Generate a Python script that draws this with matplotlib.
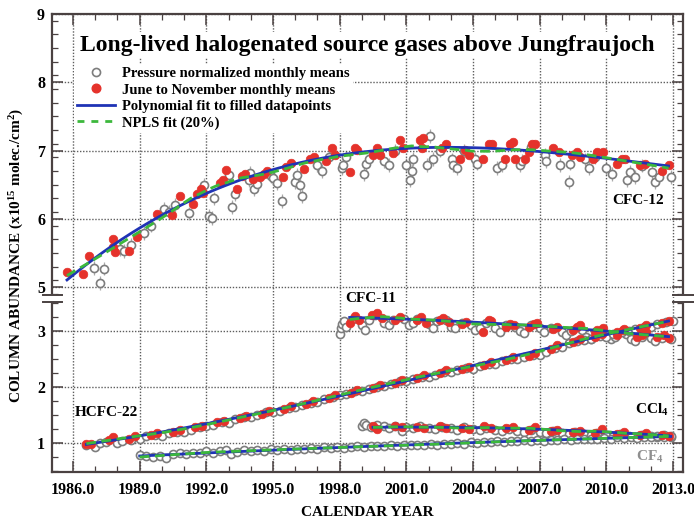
import numpy as np
import matplotlib
matplotlib.use("Agg")
import matplotlib.pyplot as plt
from matplotlib.lines import Line2D
from matplotlib.patches import Rectangle

plt.rcParams['font.family'] = ['Liberation Serif', 'DejaVu Serif']
plt.rcParams['font.weight'] = 'bold'
plt.rcParams['mathtext.fontset'] = 'custom'
plt.rcParams['mathtext.rm'] = 'Liberation Serif:bold'
plt.rcParams['mathtext.it'] = 'Liberation Serif:bold'
plt.rcParams['mathtext.bf'] = 'Liberation Serif:bold'
plt.rcParams['mathtext.default'] = 'rm'

# ---------------- data (decimal year, column abundance) ----------------
cfc12_open = [(1986.95, 5.28), (1987.2, 5.06), (1987.4, 5.27), (1988.1, 5.56), (1988.3, 5.53),
              (1988.6, 5.62), (1989.2, 5.79), (1989.5, 5.90), (1990.1, 6.14), (1990.3, 6.10),
              (1990.6, 6.20), (1991.2, 6.08), (1991.9, 6.50), (1992.1, 6.04), (1992.25, 6.01),
              (1992.35, 6.30), (1993.0, 6.64), (1993.15, 6.17), (1993.3, 6.36), (1993.9, 6.57),
              (1993.95, 6.67), (1994.15, 6.44), (1994.3, 6.51), (1994.9, 6.62), (1995.0, 6.60),
              (1995.2, 6.52), (1995.4, 6.26), (1996.0, 6.54), (1996.1, 6.64), (1996.2, 6.50),
              (1996.3, 6.33), (1997.0, 6.79), (1997.2, 6.70), (1997.5, 6.90), (1998.1, 6.74),
              (1998.15, 6.79), (1998.3, 6.90), (1999.1, 6.66), (1999.2, 6.81), (1999.3, 6.88),
              (2000.0, 6.85), (2000.2, 6.79), (2000.5, 7.00), (2001.0, 6.79), (2001.15, 6.57),
              (2001.25, 6.70), (2001.3, 6.88), (2001.95, 6.79), (2002.05, 7.21), (2002.2, 6.88),
              (2002.5, 7.00), (2003.05, 6.87), (2003.1, 6.79), (2003.3, 6.74), (2003.6, 7.00),
              (2004.1, 6.88), (2004.2, 6.81), (2005.1, 6.74), (2005.3, 6.79), (2006.1, 6.79),
              (2006.2, 6.85), (2006.6, 7.05), (2007.25, 6.94), (2007.3, 6.84), (2007.9, 6.79),
              (2008.3, 6.54), (2008.35, 6.81), (2009.05, 6.87), (2009.2, 6.74), (2009.5, 6.90),
              (2010.0, 6.74), (2010.25, 6.66), (2010.95, 6.57), (2011.05, 6.69), (2011.3, 6.61),
              (2011.6, 6.78), (2012.05, 6.69), (2012.2, 6.54), (2012.35, 6.61), (2012.9, 6.61)]

cfc12_red = [(1985.73, 5.22), (1986.45, 5.19), (1986.72, 5.46), (1987.78, 5.70), (1987.82, 5.58),
             (1987.88, 5.52), (1988.5, 5.53), (1988.9, 5.74), (1989.8, 6.07), (1990.45, 6.05),
             (1990.8, 6.33), (1991.4, 6.21), (1991.6, 6.36), (1991.75, 6.44), (1991.85, 6.38),
             (1992.6, 6.53), (1992.75, 6.57), (1992.9, 6.72), (1993.4, 6.44), (1993.6, 6.63),
             (1993.75, 6.65), (1994.1, 6.59), (1994.4, 6.61), (1994.6, 6.65), (1994.75, 6.70),
             (1995.45, 6.61), (1995.6, 6.76), (1995.8, 6.82), (1996.4, 6.73), (1996.65, 6.88),
             (1996.85, 6.91), (1997.4, 6.84), (1997.65, 7.04), (1997.8, 6.94), (1998.45, 6.69),
             (1998.7, 7.03), (1998.8, 7.01), (1999.5, 6.94), (1999.7, 7.04), (1999.8, 6.94),
             (2000.4, 6.96), (2000.7, 7.16), (2000.85, 7.03), (2001.6, 7.16), (2001.7, 7.03),
             (2001.75, 7.18), (2002.6, 7.03), (2002.8, 7.10), (2003.4, 6.87), (2003.65, 7.01),
             (2003.8, 6.94), (2004.45, 6.87), (2004.7, 7.09), (2004.85, 7.10), (2005.45, 6.88),
             (2005.65, 7.10), (2005.8, 7.13), (2005.9, 6.88), (2006.35, 6.88), (2006.5, 6.98),
             (2006.65, 7.10), (2006.8, 7.10), (2007.6, 7.03), (2007.85, 6.98), (2008.45, 6.94),
             (2008.7, 6.98), (2008.8, 6.91), (2009.4, 6.88), (2009.6, 6.98), (2009.85, 6.98),
             (2010.5, 6.81), (2010.7, 6.88), (2010.85, 6.87), (2011.5, 6.79), (2011.75, 6.81),
             (2012.5, 6.70), (2012.8, 6.79)]

cfc11_open = [(1998.0, 2.95), (1998.05, 3.05), (1998.1, 3.12), (1998.2, 3.18), (1998.3, 3.08),
              (1998.6, 3.22), (1999.0, 3.10), (1999.15, 3.02), (1999.3, 3.20), (1999.6, 3.28),
              (2000.0, 3.15), (2000.2, 3.10), (2000.4, 3.20), (2000.9, 3.22), (2001.1, 3.10),
              (2001.3, 3.15), (2001.5, 3.22), (2002.0, 3.12), (2002.2, 3.05), (2002.4, 3.18),
              (2002.8, 3.20), (2003.0, 3.08), (2003.2, 3.05), (2003.5, 3.15), (2003.9, 3.10),
              (2004.1, 3.02), (2004.3, 3.06), (2004.6, 3.15), (2005.0, 3.05), (2005.2, 2.98),
              (2005.5, 3.10), (2005.9, 3.08), (2006.1, 3.00), (2006.3, 2.96), (2006.6, 3.10),
              (2007.0, 3.05), (2007.2, 2.98), (2007.5, 3.06), (2008.0, 2.98), (2008.2, 2.92),
              (2008.4, 3.00), (2008.9, 3.02), (2009.1, 2.90), (2009.3, 2.86), (2009.6, 2.96),
              (2010.0, 2.92), (2010.2, 2.85), (2010.4, 2.90), (2010.9, 2.95), (2011.1, 2.85),
              (2011.3, 2.82), (2011.6, 2.90), (2012.0, 2.88), (2012.2, 2.82), (2012.5, 2.88),
              (2012.9, 2.86)]

cfc11_red = [(1998.45, 3.14), (1998.7, 3.27), (1998.85, 3.20), (1999.45, 3.29), (1999.7, 3.32),
             (1999.9, 3.23), (2000.5, 3.20), (2000.7, 3.25), (2001.5, 3.20), (2001.65, 3.25),
             (2001.9, 3.14), (2002.5, 3.20), (2002.65, 3.23), (2002.9, 3.16), (2003.5, 3.12),
             (2003.7, 3.16), (2004.45, 2.98), (2004.7, 3.20), (2004.8, 3.18), (2005.5, 3.08),
             (2005.65, 3.13), (2005.85, 3.10), (2006.5, 3.08), (2006.75, 3.12), (2006.9, 3.14),
             (2007.6, 3.04), (2007.8, 3.07), (2008.5, 3.02), (2008.7, 3.08), (2008.8, 3.11),
             (2009.5, 2.98), (2009.6, 3.02), (2009.85, 3.05), (2010.5, 2.93), (2010.75, 3.02),
             (2011.4, 2.89), (2011.6, 2.93), (2011.8, 2.98), (2012.3, 2.89), (2012.6, 2.93),
             (2012.8, 2.88)]

hcfc22_open = [(1986.6, 0.96), (1987.0, 0.92), (1987.2, 1.00), (1987.5, 1.02), (1988.0, 1.00),
               (1988.2, 1.04), (1988.6, 1.06), (1989.0, 1.08), (1989.3, 1.12), (1989.7, 1.15),
               (1990.0, 1.13), (1990.3, 1.17), (1990.7, 1.20), (1991.0, 1.20), (1991.3, 1.24),
               (1991.7, 1.28), (1992.0, 1.30), (1992.3, 1.33), (1992.7, 1.38), (1993.0, 1.36),
               (1993.3, 1.42), (1993.7, 1.46), (1994.0, 1.46), (1994.3, 1.50), (1994.7, 1.55),
               (1995.0, 1.55), (1995.3, 1.58), (1995.7, 1.63), (1996.0, 1.64), (1996.3, 1.68),
               (1996.7, 1.72), (1997.0, 1.74), (1997.3, 1.78), (1997.7, 1.82), (1998.0, 1.86),
               (1998.3, 1.88), (1998.7, 1.92), (1999.0, 1.93), (1999.3, 1.97), (1999.7, 2.00),
               (2000.0, 2.02), (2000.3, 2.05), (2000.7, 2.10), (2001.0, 2.10), (2001.3, 2.14),
               (2001.7, 2.18), (2002.0, 2.18), (2002.3, 2.22), (2002.7, 2.27), (2003.0, 2.26),
               (2003.3, 2.30), (2003.7, 2.34), (2004.0, 2.33), (2004.3, 2.37), (2004.7, 2.41),
               (2005.0, 2.41), (2005.3, 2.46), (2005.7, 2.50), (2006.0, 2.50), (2006.3, 2.54),
               (2006.7, 2.58), (2007.0, 2.58), (2007.3, 2.63), (2007.7, 2.70), (2008.0, 2.72),
               (2008.3, 2.78), (2008.7, 2.82), (2009.0, 2.84), (2009.3, 2.86), (2009.7, 2.91),
               (2010.0, 2.90), (2010.3, 2.95), (2010.7, 2.99), (2011.0, 3.00), (2011.3, 3.03),
               (2011.7, 3.08), (2012.0, 3.08), (2012.3, 3.12), (2012.7, 3.16), (2013.0, 3.17)]

hcfc22_red = [(1986.6, 0.98), (1986.8, 0.99), (1987.6, 1.05), (1987.8, 1.10), (1988.5, 1.08),
              (1988.8, 1.12), (1989.5, 1.15), (1989.8, 1.18), (1990.5, 1.20), (1990.8, 1.24),
              (1991.5, 1.28), (1991.8, 1.30), (1992.5, 1.37), (1992.8, 1.40), (1993.5, 1.45),
              (1993.8, 1.49), (1994.5, 1.52), (1994.8, 1.58), (1995.5, 1.60), (1995.8, 1.66),
              (1996.5, 1.70), (1996.8, 1.75), (1997.5, 1.80), (1997.8, 1.86), (1998.5, 1.90),
              (1998.8, 1.94), (1999.5, 1.98), (1999.8, 2.04), (2000.5, 2.08), (2000.8, 2.12),
              (2001.5, 2.16), (2001.8, 2.22), (2002.5, 2.25), (2002.8, 2.30), (2003.5, 2.32),
              (2003.8, 2.36), (2004.5, 2.40), (2004.8, 2.44), (2005.5, 2.48), (2005.8, 2.53),
              (2006.5, 2.56), (2006.8, 2.60), (2007.5, 2.68), (2007.8, 2.75), (2008.5, 2.80),
              (2008.8, 2.86), (2009.5, 2.90), (2009.8, 2.94), (2010.5, 2.98), (2010.8, 3.03),
              (2011.5, 3.06), (2011.8, 3.10), (2012.5, 3.14), (2012.8, 3.18)]

ccl4_open = [(1999.0, 1.30), (1999.1, 1.35), (1999.2, 1.33), (1999.4, 1.28), (1999.7, 1.32),
             (2000.0, 1.30), (2000.2, 1.27), (2000.5, 1.31), (2000.8, 1.22), (2001.0, 1.28),
             (2001.3, 1.26), (2001.6, 1.30), (2002.0, 1.27), (2002.3, 1.25), (2002.6, 1.29),
             (2003.0, 1.26), (2003.3, 1.24), (2003.6, 1.28), (2004.0, 1.25), (2004.3, 1.23),
             (2004.6, 1.27), (2005.0, 1.24), (2005.3, 1.21), (2005.6, 1.25), (2006.0, 1.22),
             (2006.3, 1.20), (2006.6, 1.24), (2007.0, 1.20), (2007.3, 1.18), (2007.6, 1.22),
             (2008.0, 1.18), (2008.3, 1.16), (2008.6, 1.20), (2009.0, 1.16), (2009.3, 1.14),
             (2009.6, 1.18), (2010.0, 1.15), (2010.3, 1.12), (2010.6, 1.16), (2011.0, 1.13),
             (2011.3, 1.11), (2011.6, 1.15), (2012.0, 1.12), (2012.3, 1.10), (2012.6, 1.14),
             (2012.9, 1.10)]

ccl4_red = [(1999.5, 1.30), (1999.7, 1.25), (2000.5, 1.31), (2000.8, 1.28), (2001.5, 1.29),
            (2001.8, 1.27), (2002.5, 1.30), (2002.8, 1.26), (2003.5, 1.27), (2003.8, 1.25),
            (2004.5, 1.30), (2004.8, 1.26), (2005.5, 1.26), (2005.8, 1.28), (2006.5, 1.24),
            (2006.8, 1.29), (2007.5, 1.21), (2007.8, 1.24), (2008.5, 1.19), (2008.8, 1.22),
            (2009.5, 1.18), (2009.8, 1.25), (2010.5, 1.16), (2010.8, 1.19), (2011.5, 1.15),
            (2011.8, 1.17), (2012.5, 1.14), (2012.8, 1.12)]

cf4_open = [(1989.0, 0.78), (1989.3, 0.76), (1989.6, 0.75), (1989.9, 0.76), (1990.2, 0.74),
            (1990.5, 0.80), (1990.8, 0.82), (1991.1, 0.80), (1991.4, 0.83), (1991.7, 0.82),
            (1992.0, 0.85), (1992.3, 0.83), (1992.6, 0.86), (1992.9, 0.88), (1993.1, 0.80),
            (1993.4, 0.84), (1993.7, 0.87), (1994.0, 0.85), (1994.3, 0.88), (1994.6, 0.86),
            (1994.9, 0.89), (1995.2, 0.87), (1995.5, 0.90), (1995.8, 0.88), (1996.1, 0.90),
            (1996.4, 0.89), (1996.7, 0.91), (1997.0, 0.90), (1997.3, 0.92), (1997.6, 0.91),
            (1997.9, 0.93), (1998.2, 0.91), (1998.5, 0.93), (1998.8, 0.94), (1999.1, 0.92),
            (1999.4, 0.94), (1999.7, 0.95), (2000.0, 0.94), (2000.3, 0.96), (2000.6, 0.95),
            (2000.9, 0.97), (2001.2, 0.96), (2001.5, 0.97), (2001.8, 0.96), (2002.1, 0.98),
            (2002.4, 0.97), (2002.7, 0.99), (2003.0, 0.98), (2003.3, 1.00), (2003.6, 0.99),
            (2003.9, 1.01), (2004.2, 1.00), (2004.5, 1.02), (2004.8, 1.01), (2005.1, 1.03),
            (2005.4, 1.02), (2005.7, 1.04), (2006.0, 1.03), (2006.3, 1.05), (2006.6, 1.04),
            (2006.9, 1.05), (2007.2, 1.04), (2007.5, 1.06), (2007.8, 1.05), (2008.1, 1.07),
            (2008.4, 1.06), (2008.7, 1.08), (2009.0, 1.07), (2009.3, 1.08), (2009.6, 1.07),
            (2009.9, 1.09), (2010.2, 1.08), (2010.5, 1.10), (2010.8, 1.09), (2011.1, 1.10),
            (2011.4, 1.09), (2011.7, 1.11), (2012.0, 1.10), (2012.3, 1.12), (2012.6, 1.11),
            (2012.9, 1.12)]

x_ticks = [1986.0, 1989.0, 1992.0, 1995.0, 1998.0, 2001.0, 2004.0, 2007.0, 2010.0, 2013.0]
y_ticks_top = [5, 6, 7, 8, 9]
y_ticks_low = [1, 2, 3]

# ---------------- styles ----------------
W, H = 694, 522
C_RED = '#e5322b'
C_BLUE = '#1f33b5'
C_GREEN = '#3cb83c'
C_GRAY = '#7d7d7d'
C_SPINE = '#4a4141'
C_GRID = '#5e5e5e'


def fx(px):
    return px / W


def fy(py):
    return 1 - py / H


def xy(points):
    a = np.array(points, dtype=float)
    return a[:, 0], a[:, 1]


def polyfit_curve(points, deg):
    x, y = xy(points)
    xm = x.mean()
    c = np.polyfit(x - xm, y, deg)
    xs = np.linspace(x.min(), x.max(), 200)
    return xs, np.polyval(c, xs - xm)


def npls_curve(points, frac=0.2):
    x, y = xy(points)
    n = len(x)
    k = max(int(np.ceil(frac * n)), 5)
    xs = np.linspace(x.min(), x.max(), 200)
    ys = []
    for x0 in xs:
        d = np.abs(x - x0)
        h = np.sort(d)[k - 1] * 1.0001
        w = np.clip(1 - (d / h) ** 3, 0, None) ** 3
        sw = w.sum()
        xb = (w * x).sum() / sw
        yb = (w * y).sum() / sw
        sxx = (w * (x - xb) ** 2).sum()
        b = (w * (x - xb) * (y - yb)).sum() / sxx if sxx > 0 else 0.0
        ys.append(yb + b * (x0 - xb))
    return xs, np.array(ys)


fig = plt.figure(figsize=(W / 100, H / 100), dpi=100)
ax_t = fig.add_axes([fx(52), fy(298), fx(683) - fx(52), fy(14) - fy(298)])
ax_b = fig.add_axes([fx(52), fy(472), fx(683) - fx(52), fy(298) - fy(472)])

XLIM = (1985.055, 2013.45)
ax_t.set_xlim(*XLIM)
ax_b.set_xlim(*XLIM)
ax_t.set_ylim(4.84, 9.0)
ax_b.set_ylim(0.482, 3.589)


def draw_series(ax, opn, red, err, poly_deg):
    xo, yo = xy(opn)
    ax.errorbar(xo, yo, yerr=err, fmt='none', ecolor='#aaaaaa', elinewidth=0.9, zorder=1.5)
    ax.plot(xo, yo, 'o', ms=5.8, mfc='white', mec=C_GRAY, mew=1.2, zorder=2)
    src = red if red is not None else opn
    if red is not None:
        xr, yr = xy(red)
        ax.plot(xr, yr, 'o', ms=6.2, mfc=C_RED, mec=C_RED, mew=0.5, zorder=3)
    px, py = polyfit_curve(src, poly_deg)
    ax.plot(px, py, '-', color=C_BLUE, lw=2.0, zorder=4)
    nx, ny = npls_curve(src, 0.2)
    ax.plot(nx, ny, color=C_GREEN, lw=2.0, ls=(0, (3.5, 2.0)), zorder=5)


draw_series(ax_t, cfc12_open, cfc12_red, 0.10, 3)
draw_series(ax_b, cfc11_open, cfc11_red, 0.05, 2)
draw_series(ax_b, hcfc22_open, hcfc22_red, 0.035, 3)
draw_series(ax_b, ccl4_open, ccl4_red, 0.035, 2)
draw_series(ax_b, cf4_open, None, 0.025, 2)

# ticks, grids, spines
for ax in (ax_t, ax_b):
    ax.set_xticks(x_ticks)
    ax.set_xticks(np.arange(1986, 2014, 1), minor=True)
    ax.grid(True, which='major', ls=(0, (1, 1.2)), color=C_GRID, lw=1.0, zorder=0)
    for s in ax.spines.values():
        s.set_color(C_SPINE)
        s.set_linewidth(1.6)
    ax.tick_params(which='both', direction='in', color=C_SPINE, left=True, right=True,
                   labelright=False, labelsize=11.5)
    ax.tick_params(which='major', length=8, width=1.1)
    ax.tick_params(which='minor', length=4, width=0.9)

ax_t.set_yticks(y_ticks_top)
ax_t.set_yticks(np.arange(4.9, 9.0, 0.2), minor=True)
ax_b.set_yticks(y_ticks_low)
ax_b.set_yticks(np.arange(0.5, 3.6, 0.25), minor=True)
ax_t.set_yticklabels([str(v) for v in y_ticks_top], fontweight='bold')
ax_b.set_yticklabels([str(v) for v in y_ticks_low], fontweight='bold')
ax_t.spines['bottom'].set_visible(False)
ax_b.spines['top'].set_visible(False)
ax_t.tick_params(axis='x', which='both', top=True, bottom=False, labelbottom=False)
ax_b.tick_params(axis='x', which='both', top=False, bottom=True, pad=7)
ax_b.set_xticklabels([f"{v:.1f}" for v in x_ticks], fontweight='bold')
ax_t.tick_params(axis='y', pad=5)
ax_b.tick_params(axis='y', pad=5)

# legend
handles = [
    Line2D([], [], ls='none', marker='o', ms=5.8, mfc='white', mec=C_GRAY, mew=1.2),
    Line2D([], [], ls='none', marker='o', ms=6.2, mfc=C_RED, mec=C_RED),
    Line2D([], [], color=C_BLUE, lw=2.0),
    Line2D([], [], color=C_GREEN, lw=2.0, ls=(0, (2.5, 2.5))),
]
labels = ["Pressure normalized monthly means", "June to November monthly means",
          "Polynomial fit to filled datapoints", "NPLS fit (20%)"]
leg = ax_t.legend(handles, labels, loc='upper left',
                  bbox_to_anchor=(fx(74), fy(64)), bbox_transform=fig.transFigure,
                  frameon=True, facecolor='white', edgecolor='none', framealpha=1.0,
                  prop={'weight': 'bold', 'size': 10.5}, handlelength=2.6, handletextpad=0.5,
                  labelspacing=0.22, borderpad=0.2, borderaxespad=0)
leg.set_zorder(6)

# title
fig.text(fx(367), fy(45), "Long-lived halogenated source gases above Jungfraujoch",
         ha='center', va='center', fontsize=17, fontweight='bold', color='black',
         bbox=dict(facecolor='white', edgecolor='none', pad=2), zorder=7)

# series labels
fig.text(fx(638), fy(200), "CFC-12", ha='center', va='center', fontsize=11, fontweight='bold')
fig.text(fx(371), fy(298), "CFC-11", ha='center', va='center', fontsize=11, fontweight='bold')
fig.text(fx(106), fy(413), "HCFC-22", ha='center', va='center', fontsize=11, fontweight='bold')
fig.text(fx(652), fy(410), "CCl$_4$", ha='center', va='center', fontsize=11, fontweight='bold')
fig.text(fx(650), fy(457), "CF$_4$", ha='center', va='center', fontsize=11, fontweight='bold',
         color='#8f8f8f')

# axis labels
fig.text(fx(367), fy(513), "CALENDAR YEAR", ha='center', va='center', fontsize=11,
         fontweight='bold')
fig.text(fx(17), fy(255), "COLUMN ABUNDANCE (x10$^{15}$ molec./cm$^2$)", ha='center',
         va='center', rotation=90, fontsize=11, fontweight='bold')

# axis break marks
for (x0, x1, xs0, xs1) in [(43, 62, 48, 56), (673, 694, 679, 687)]:
    fig.patches.append(Rectangle((fx(xs0), fy(302)), fx(xs1) - fx(xs0), fy(294) - fy(302),
                                 transform=fig.transFigure, facecolor='white',
                                 edgecolor='none', zorder=8))
    for yy in (294.5, 302):
        fig.add_artist(Line2D([fx(x0), fx(x1)], [fy(yy), fy(yy)], transform=fig.transFigure,
                              color=C_SPINE, lw=1.4, zorder=9))

fig.savefig("out.png", dpi=100)
